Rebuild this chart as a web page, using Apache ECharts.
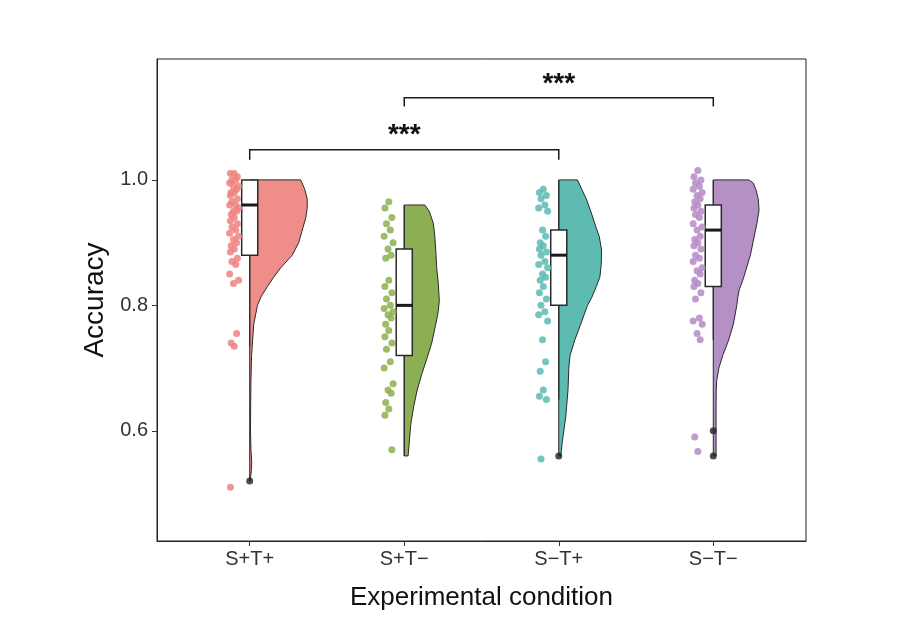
<!DOCTYPE html>
<html><head><meta charset="utf-8">
<script src="https://cdn.jsdelivr.net/npm/echarts@6/dist/echarts.min.js"></script>
<style>html,body{margin:0;padding:0;background:#fff}#c{width:915px;height:642px}</style>
</head><body><div id="c"></div>
<script>
// ---- data ----
const categories = ['S+T+', 'S+T\u2212', 'S\u2212T+', 'S\u2212T\u2212'];
const yTicks = [0.6, 0.8, 1.0];

// individual accuracies (jittered dots)
const ptsSTpp = [1.01,1.01,1.005,1.0,1.0,0.995,0.99,0.99,0.985,0.98,0.98,0.975,0.97,0.965,0.96,0.96,0.955,0.95,0.95,0.945,0.94,0.935,0.93,0.925,0.92,0.915,0.91,0.905,0.9,0.895,0.89,0.885,0.875,0.87,0.865,0.85,0.84,0.835,0.755,0.74,0.735,0.51];
const ptsSTpm = [0.965,0.955,0.94,0.93,0.92,0.91,0.90,0.89,0.88,0.875,0.84,0.83,0.82,0.81,0.80,0.795,0.79,0.785,0.78,0.77,0.76,0.75,0.74,0.73,0.71,0.70,0.675,0.665,0.66,0.645,0.635,0.625,0.57];
const ptsSTmp = [0.985,0.98,0.975,0.97,0.96,0.955,0.95,0.92,0.91,0.90,0.895,0.89,0.885,0.88,0.87,0.865,0.86,0.85,0.845,0.84,0.83,0.82,0.81,0.80,0.79,0.785,0.775,0.745,0.71,0.695,0.665,0.655,0.65,0.555];
const ptsSTmm = [1.015,1.005,1.0,0.995,0.99,0.985,0.98,0.975,0.97,0.965,0.96,0.955,0.95,0.945,0.94,0.93,0.925,0.92,0.91,0.905,0.90,0.895,0.89,0.88,0.875,0.87,0.86,0.855,0.85,0.84,0.835,0.83,0.82,0.81,0.78,0.775,0.77,0.755,0.745,0.59,0.567];
const jitterPattern = [-0.10,-0.125,-0.08,-0.115,-0.09,-0.13,-0.072,-0.105,-0.085,-0.12];

// boxplot statistics
const boxLow  = [0.735, 0.56, 0.65, 0.745];
const boxQ1   = [0.88, 0.72, 0.80, 0.83];
const boxMed  = [0.96, 0.80, 0.88, 0.92];
const boxQ3   = [1.00, 0.89, 0.92, 0.96];
const boxHigh = [1.00, 0.96, 1.00, 1.00];
const outlierGroup = [1, 3, 4, 4];
const outlierValue = [0.52, 0.56, 0.60, 0.56];

// half-violin outlines (accuracy, half width in category units)
const violinY1 = [0.52,0.535,0.55,0.57,0.60,0.64,0.68,0.72,0.77,0.80,0.815,0.83,0.845,0.86,0.88,0.90,0.92,0.94,0.955,0.97,0.985,1.0];
const violinW1 = [.003,.010,.013,.008,.005,.006,.008,.012,.026,.050,.076,.115,.155,.201,.275,.317,.340,.363,.372,.372,.356,.330];
const violinY2 = [0.56,0.58,0.61,0.64,0.665,0.69,0.717,0.74,0.77,0.79,0.808,0.836,0.86,0.888,0.91,0.931,0.95,0.96];
const violinW2 = [.025,.032,.042,.062,.084,.113,.149,.178,.204,.220,.227,.220,.210,.204,.198,.188,.162,.133];
const violinY3 = [0.56,0.585,0.622,0.666,0.70,0.72,0.745,0.77,0.80,0.813,0.83,0.845,0.865,0.888,0.91,0.925,0.945,0.968,0.985,1.0];
const violinW3 = [.013,.024,.045,.060,.065,.073,.104,.142,.186,.214,.243,.266,.275,.277,.262,.240,.214,.181,.149,.121];
const violinY4 = [0.56,0.60,0.64,0.665,0.68,0.70,0.72,0.745,0.77,0.80,0.813,0.825,0.84,0.857,0.88,0.909,0.93,0.952,0.97,0.985,0.995,1.0];
const violinW4 = [.018,.018,.018,.019,.022,.036,.061,.100,.130,.152,.159,.168,.191,.212,.240,.264,.282,.296,.291,.275,.259,.230];

// significance brackets
const bracketFrom = [1, 2];
const bracketTo   = [3, 4];
const bracketY    = [1.048, 1.131];
const bracketEnd  = [1.032, 1.117];
const bracketText = ['***', '***'];
const bracketTextY = [1.071, 1.153];

// ---- build ----
const violinFill = ['#EF8E89', '#8BAF52', '#5DBBB1', '#B490C5'];
const pointFill  = ['#EE8380', '#8CB04E', '#5BBBB2', '#B58AC6'];
const profiles = [[violinY1, violinW1], [violinY2, violinW2], [violinY3, violinW3], [violinY4, violinW4]];
const pointSets = [ptsSTpp, ptsSTpm, ptsSTmp, ptsSTmm];
const FONT = "'Liberation Sans', Arial, sans-serif";

const series = [];

series.push({
  type: 'custom', z: 2,
  data: categories.map((c, i) => [i + 1, boxMed[i]]),
  renderItem: function (params, api) {
    const gx = api.value(0);
    const g = gx - 1;
    const ys = profiles[g][0], ws = profiles[g][1];
    const pts = [api.coord([gx, ys[0]])];
    for (let k = 0; k < ys.length; k++) pts.push(api.coord([gx + ws[k], ys[k]]));
    pts.push(api.coord([gx, ys[ys.length - 1]]));
    return { type: 'polygon', shape: { points: pts },
      style: { fill: violinFill[g], stroke: '#2a2a2a', lineWidth: 1, lineJoin: 'round' } };
  }
});

series.push({
  type: 'custom', z: 3,
  data: categories.map((c, i) => [i + 1, boxLow[i], boxQ1[i], boxMed[i], boxQ3[i], boxHigh[i]]),
  renderItem: function (params, api) {
    const x = api.value(0);
    const hw = 0.052;
    const lo = api.coord([x, api.value(1)]);
    const hi = api.coord([x, api.value(5)]);
    const q1l = api.coord([x - hw, api.value(2)]);
    const q3r = api.coord([x + hw, api.value(4)]);
    const ml = api.coord([x - hw, api.value(3)]);
    const mr = api.coord([x + hw, api.value(3)]);
    return { type: 'group', children: [
      { type: 'line', shape: { x1: lo[0], y1: lo[1], x2: hi[0], y2: hi[1] }, style: { stroke: '#2a2a2a', lineWidth: 1.2 } },
      { type: 'rect', shape: { x: q1l[0], y: q3r[1], width: q3r[0] - q1l[0], height: q1l[1] - q3r[1] },
        style: { fill: '#fff', stroke: '#2a2a2a', lineWidth: 1.5 } },
      { type: 'line', shape: { x1: ml[0], y1: ml[1], x2: mr[0], y2: mr[1] }, style: { stroke: '#1a1a1a', lineWidth: 3 } }
    ]};
  }
});

pointSets.forEach((arr, g) => {
  series.push({
    type: 'scatter', z: 4, symbolSize: 7,
    itemStyle: { color: pointFill[g], opacity: 0.85 },
    data: arr.map((v, k) => [g + 1 + jitterPattern[k % jitterPattern.length], v])
  });
});

series.push({
  type: 'scatter', z: 5, symbolSize: 7,
  itemStyle: { color: '#222' },
  data: outlierGroup.map((g, k) => [g, outlierValue[k]])
});

series.push({
  type: 'custom', z: 6,
  data: bracketFrom.map((f, k) => [f, bracketTo[k], bracketY[k], bracketEnd[k], bracketTextY[k]]),
  renderItem: function (params, api) {
    const k = params.dataIndex;
    const x1 = api.value(0), x2 = api.value(1);
    const a = api.coord([x1, api.value(3)]);
    const b = api.coord([x1, api.value(2)]);
    const c = api.coord([x2, api.value(2)]);
    const d = api.coord([x2, api.value(3)]);
    const t = api.coord([(x1 + x2) / 2, api.value(4)]);
    return { type: 'group', children: [
      { type: 'polyline', shape: { points: [a, b, c, d] }, style: { stroke: '#1a1a1a', lineWidth: 1.5, fill: null } },
      { type: 'text', x: t[0], y: t[1], style: { text: bracketText[k], fill: '#111', font: 'bold 28px ' + FONT, align: 'center', verticalAlign: 'middle' } }
    ]};
  }
});

const chart = echarts.init(document.getElementById('c'), null, { renderer: 'canvas' });
chart.setOption({
  animation: false,
  backgroundColor: '#fff',
  grid: { left: 157, top: 59, width: 649, height: 482, show: true, borderColor: '#222', borderWidth: 1, backgroundColor: 'transparent' },
  xAxis: {
    type: 'value', min: 0.4, max: 4.6,
    name: 'Experimental condition', nameLocation: 'middle', nameGap: 44,
    nameTextStyle: { fontSize: 26, color: '#111', fontFamily: FONT },
    axisLine: { show: true, onZero: false, lineStyle: { color: '#222', width: 1 } },
    axisTick: { show: true, length: 5, customValues: [1, 2, 3, 4], lineStyle: { color: '#333' } },
    axisLabel: { customValues: [1, 2, 3, 4], formatter: v => categories[Math.round(v) - 1], fontSize: 20, color: '#333', fontFamily: FONT, margin: 8 },
    splitLine: { show: false }
  },
  yAxis: {
    type: 'value', min: 0.4244, max: 1.1927,
    name: 'Accuracy', nameLocation: 'middle', nameGap: 47, nameRotate: 90,
    nameTextStyle: { fontSize: 28, color: '#111', fontFamily: FONT },
    axisLine: { show: true, onZero: false, lineStyle: { color: '#222', width: 1 } },
    axisTick: { show: true, length: 5, customValues: yTicks, lineStyle: { color: '#333' } },
    axisLabel: { customValues: yTicks, formatter: v => v.toFixed(1), fontSize: 20, color: '#333', fontFamily: FONT, margin: 9 },
    splitLine: { show: false }
  },
  series: series
});
</script></body></html>
